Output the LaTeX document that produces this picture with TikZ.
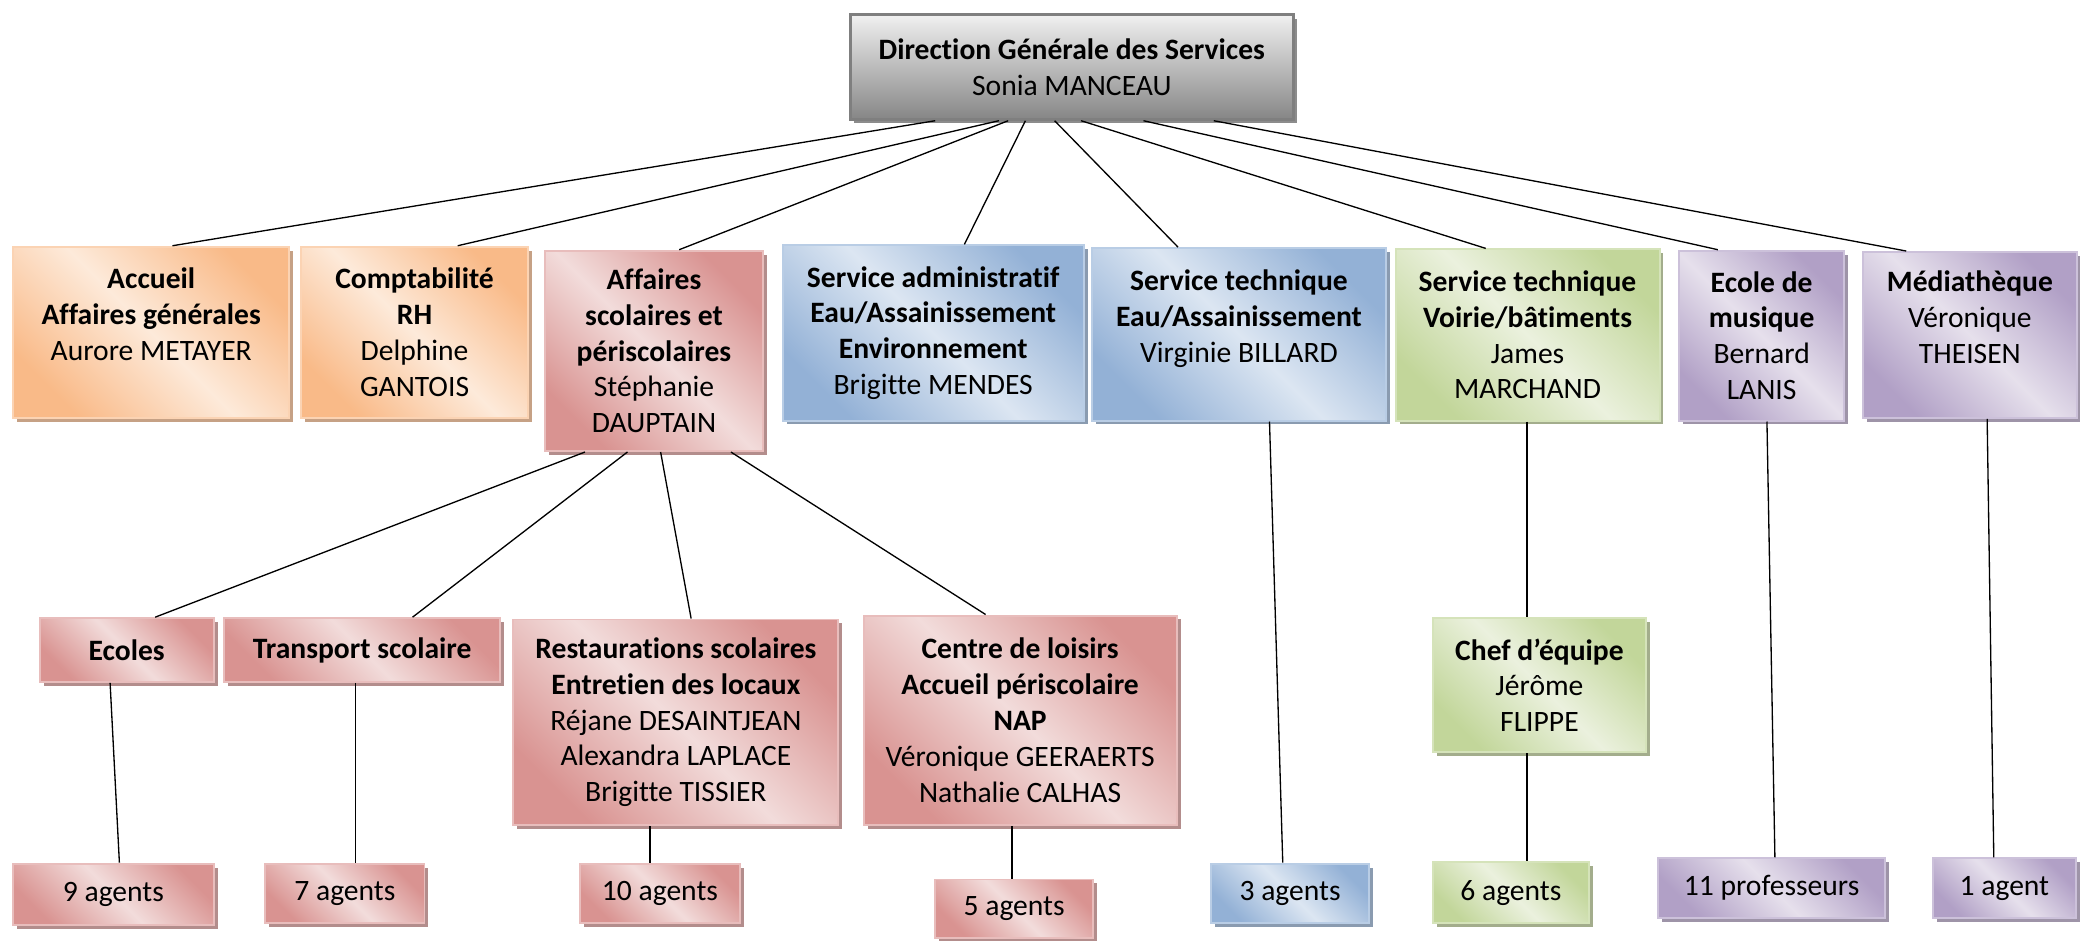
\documentclass[tikz,border=0pt]{standalone}
\usepackage{fontspec}
\setmainfont{Carlito}[Ligatures=CommonOff]
\usetikzlibrary{shadows}

\definecolor{dgsln}{HTML}{7F7F7F}
\definecolor{dgslt}{HTML}{F0F0F0}
\definecolor{dgsdk}{HTML}{868686}
\definecolor{dgssh}{HTML}{8C8C8C}
\definecolor{orgln}{HTML}{FBD3B3}
\definecolor{orgdk}{HTML}{F9BA88}
\definecolor{orglt}{HTML}{FDEADA}
\definecolor{orgsh}{HTML}{C6A185}
\definecolor{redln}{HTML}{E8BDBC}
\definecolor{reddk}{HTML}{D99391}
\definecolor{redlt}{HTML}{F2DCDB}
\definecolor{redsh}{HTML}{B38D8C}
\definecolor{bluln}{HTML}{B9CDE5}
\definecolor{bludk}{HTML}{93B1D6}
\definecolor{blult}{HTML}{DCE6F2}
\definecolor{blush}{HTML}{8A9BB0}
\definecolor{grnln}{HTML}{D5E3BA}
\definecolor{grndk}{HTML}{C2D69A}
\definecolor{grnlt}{HTML}{EBF1DE}
\definecolor{grnsh}{HTML}{A3AD8C}
\definecolor{purln}{HTML}{CCC1DA}
\definecolor{purdk}{HTML}{B1A0C6}
\definecolor{purlt}{HTML}{E6E0EC}
\definecolor{pursh}{HTML}{9E94A8}

\begin{document}
\begin{tikzpicture}[x=1pt,y=-1pt,
  unit/.style={rectangle, align=center, inner sep=0pt, line width=1.5pt,
    font=\fontsize{22.3}{27}\selectfont},
  tint/.style n args={4}{unit, draw=#1, left color=#2, right color=#2,
    middle color=#3, shading angle=-45,
    drop shadow={shadow xshift=3pt, shadow yshift=-3pt, opacity=1, fill=#4}},
  orgbox/.style={tint={orgln}{orgdk}{orglt}{orgsh}},
  redbox/.style={tint={redln}{reddk}{redlt}{redsh}},
  blubox/.style={tint={bluln}{bludk}{blult}{blush}},
  grnbox/.style={tint={grnln}{grndk}{grnlt}{grnsh}},
  purbox/.style={tint={purln}{purdk}{purlt}{pursh}},
  direction/.style={unit, draw=dgsln, line width=2pt, top color=dgslt,
    bottom color=dgsdk,
    drop shadow={shadow xshift=3pt, shadow yshift=-3pt, opacity=1, fill=dgssh}},
  link/.style={line width=1pt}]
  \useasboundingbox (0,0) rectangle (1568,709);

  \node[direction, minimum width=334, minimum height=79] (dgs) at (808,50.5)
    {\textbf{Direction Générale des Services}\\ Sonia MANCEAU};

  % services
  \node[orgbox, minimum width=208, minimum height=129] (acc) at (114,250.5)
    {\textbf{Accueil}\\ \textbf{Affaires générales}\\ Aurore METAYER\\ \mbox{}};
  \node[orgbox, minimum width=171, minimum height=129] (cpt) at (312.5,250.5)
    {\textbf{Comptabilité}\\ \textbf{RH}\\ Delphine\\ GANTOIS};
  \node[redbox, minimum width=164, minimum height=151] (aff) at (493,264.5)
    {\textbf{Affaires}\\ \textbf{scolaires et}\\ \textbf{périscolaires}\\ Stéphanie\\ DAUPTAIN};
  \node[blubox, minimum width=227, minimum height=132] (sadm) at (703.5,251)
    {\textbf{Service administratif}\\ \textbf{Eau/Assainissement}\\ \textbf{Environnement}\\ Brigitte MENDES};
  \node[blubox, minimum width=222, minimum height=130] (steau) at (934,252)
    {\textbf{Service technique}\\ \textbf{Eau/Assainissement}\\ Virginie BILLARD\\ \mbox{}};
  \node[grnbox, minimum width=199, minimum height=129] (stvoi) at (1151.5,252.5)
    {\textbf{Service technique}\\ \textbf{Voirie/bâtiments}\\ James\\ MARCHAND};
  \node[purbox, minimum width=124, minimum height=128] (musi) at (1328,253)
    {\textbf{Ecole de}\\ \textbf{musique}\\ Bernard\\ LANIS};
  \node[purbox, minimum width=161, minimum height=125] (med) at (1485,252.5)
    {\textbf{Médiathèque}\\ Véronique\\ THEISEN\\ \mbox{}};

  % sous-services
  \node[redbox, minimum width=131, minimum height=48] (ecoles) at (95.5,490)
    {\textbf{Ecoles}};
  \node[redbox, minimum width=208, minimum height=48] (transp) at (273,490)
    {\textbf{Transport scolaire}};
  \node[redbox, minimum width=245, minimum height=155] (resto) at (509.5,544.5)
    {\textbf{Restaurations scolaires}\\ \textbf{Entretien des locaux}\\ Réjane DESAINTJEAN\\ Alexandra LAPLACE\\ Brigitte TISSIER};
  \node[redbox, minimum width=236, minimum height=158] (loisirs) at (769,543)
    {\textbf{Centre de loisirs}\\ \textbf{Accueil périscolaire}\\ \textbf{NAP}\\ Véronique GEERAERTS\\ Nathalie CALHAS};
  \node[grnbox, minimum width=161, minimum height=101] (chef) at (1160.5,516.5)
    {\textbf{Chef d’équipe}\\ Jérôme\\ FLIPPE};

  % effectifs
  \node[redbox, minimum width=151, minimum height=46] (a9) at (85.5,674) {9 agents};
  \node[redbox, minimum width=120, minimum height=45] (a7) at (260,673.5) {7 agents};
  \node[redbox, minimum width=121, minimum height=45] (a10) at (497.5,673.5) {10 agents};
  \node[redbox, minimum width=119, minimum height=44] (a5) at (764.5,685) {5 agents};
  \node[blubox, minimum width=119, minimum height=45] (a3) at (972.5,673.5) {3 agents};
  \node[grnbox, minimum width=118, minimum height=46] (a6) at (1139,673) {6 agents};
  \node[purbox, minimum width=171, minimum height=45] (p11) at (1335.5,669.5) {11 professeurs};
  \node[purbox, minimum width=108, minimum height=45] (a1) at (1511,669.5) {1 agent};

  \draw[link] ([xshift=-103pt]dgs.south) -- ([xshift=16pt]acc.north);
  \draw[link] ([xshift=-55pt]dgs.south) -- ([xshift=32.5pt]cpt.north);
  \draw[link] ([xshift=-48pt]dgs.south) -- ([xshift=19pt]aff.north);
  \draw[link] ([xshift=-35pt]dgs.south) -- ([xshift=23.5pt]sadm.north);
  \draw[link] ([xshift=-13pt]dgs.south) -- ([xshift=-46pt]steau.north);
  \draw[link] ([xshift=7pt]dgs.south) -- ([xshift=-31.5pt]stvoi.north);
  \draw[link] ([xshift=54pt]dgs.south) -- ([xshift=-33pt]musi.north);
  \draw[link] ([xshift=107pt]dgs.south) -- ([xshift=-48pt]med.north);

  \draw[link] ([xshift=-52pt]aff.south) -- ([xshift=21.5pt]ecoles.north);
  \draw[link] ([xshift=-20pt]aff.south) -- ([xshift=38pt]transp.north);
  \draw[link] ([xshift=5pt]aff.south) -- ([xshift=11.5pt]resto.north);
  \draw[link] ([xshift=58pt]aff.south) -- ([xshift=-26pt]loisirs.north);

  \draw[link] ([xshift=-12.5pt]ecoles.south) -- ([xshift=4.5pt]a9.north);
  \draw[link] ([xshift=-5pt]transp.south) -- ([xshift=8pt]a7.north);
  \draw[link] ([xshift=-19.5pt]resto.south) -- ([xshift=-7.5pt]a10.north);
  \draw[link] ([xshift=-6pt]loisirs.south) -- ([xshift=-1.5pt]a5.north);
  \draw[link] ([xshift=23pt]steau.south) -- ([xshift=-5.5pt]a3.north);
  \draw[link] ([xshift=-0.5pt]stvoi.south) -- ([xshift=-9.5pt]chef.north);
  \draw[link] ([xshift=-9.5pt]chef.south) -- ([xshift=12pt]a6.north);
  \draw[link] ([xshift=4pt]musi.south) -- ([xshift=2.5pt]p11.north);
  \draw[link] ([xshift=13pt]med.south) -- ([xshift=-8pt]a1.north);
\end{tikzpicture}
\end{document}
